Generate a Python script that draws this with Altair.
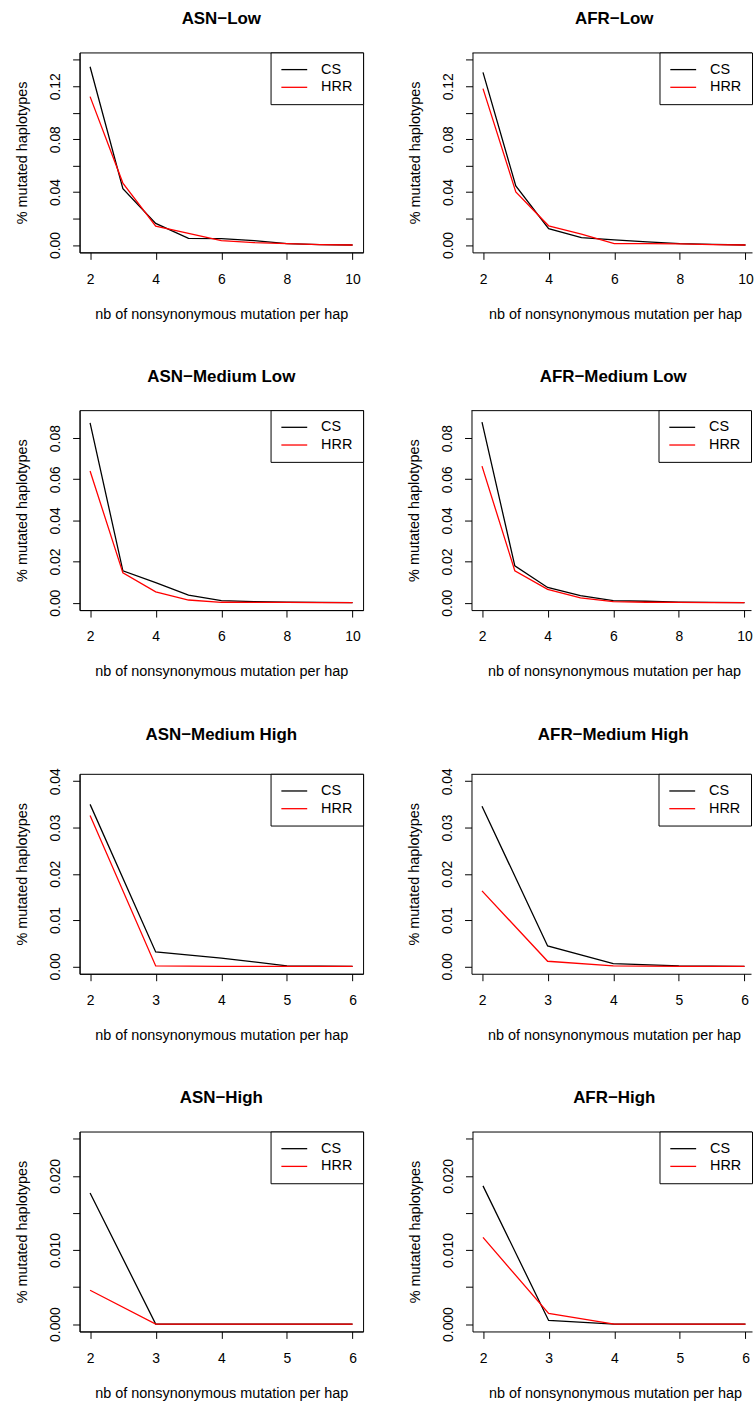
import altair as alt
import pandas as pd

FONT = "Liberation Sans"
SERIES = ["CS", "HRR"]
COLORS = ["#000000", "#ff0000"]

titles = ["ASN−Low", "AFR−Low", "ASN−Medium Low", "AFR−Medium Low",
          "ASN−Medium High", "AFR−Medium High", "ASN−High", "AFR−High"]

x_long = [2, 3, 4, 5, 6, 7, 8, 9, 10]
x_short = [2, 3, 4, 5, 6]

cs_asn_low = [0.1348, 0.0426, 0.0163, 0.0050, 0.0048, 0.0033, 0.0010, 0.0003, 0.0]
hrr_asn_low = [0.1122, 0.0468, 0.0143, 0.0088, 0.0033, 0.0018, 0.0010, 0.0003, 0.0]
cs_afr_low = [0.1305, 0.0446, 0.0123, 0.0055, 0.0038, 0.0023, 0.0010, 0.0005, 0.0]
hrr_afr_low = [0.1182, 0.0401, 0.0145, 0.0083, 0.0010, 0.0010, 0.0008, 0.0003, 0.0]

cs_asn_ml = [0.0874, 0.0155, 0.0097, 0.0037, 0.0010, 0.0005, 0.0002, 0.0001, 0.0]
hrr_asn_ml = [0.0640, 0.0145, 0.0053, 0.0013, 0.0002, 0.0001, 0.0001, 0.0, 0.0]
cs_afr_ml = [0.0878, 0.0179, 0.0074, 0.0034, 0.0010, 0.0007, 0.0003, 0.0001, 0.0]
hrr_afr_ml = [0.0664, 0.0155, 0.0065, 0.0023, 0.0005, 0.0002, 0.0001, 0.0, 0.0]

cs_asn_mh = [0.0350, 0.0031, 0.0018, 0.0001, 0.0]
hrr_asn_mh = [0.0326, 0.0001, 0.0, 0.0, 0.0]
cs_afr_mh = [0.0346, 0.0044, 0.0006, 0.0001, 0.0]
hrr_afr_mh = [0.0163, 0.0011, 0.0001, 0.0, 0.0]

cs_asn_high = [0.0177, 0.0, 0.0, 0.0, 0.0]
hrr_asn_high = [0.00456, 0.0, 0.0, 0.0, 0.0]
cs_afr_high = [0.01866, 0.00049, 0.0, 0.0, 0.0]
hrr_afr_high = [0.0117, 0.00143, 0.0, 0.0, 0.0]

x_title = "nb of nonsynonymous mutation per hap"
y_title = "% mutated haplotypes"

panels = [
    (titles[0], x_long, cs_asn_low, hrr_asn_low, 0.14, 0.02, "low"),
    (titles[1], x_long, cs_afr_low, hrr_afr_low, 0.14, 0.02, "low"),
    (titles[2], x_long, cs_asn_ml, hrr_asn_ml, 0.09, 0.02, "ml"),
    (titles[3], x_long, cs_afr_ml, hrr_afr_ml, 0.09, 0.02, "ml"),
    (titles[4], x_short, cs_asn_mh, hrr_asn_mh, 0.04, 0.01, "mh"),
    (titles[5], x_short, cs_afr_mh, hrr_afr_mh, 0.04, 0.01, "mh"),
    (titles[6], x_short, cs_asn_high, hrr_asn_high, 0.025, 0.005, "high"),
    (titles[7], x_short, cs_afr_high, hrr_afr_high, 0.025, 0.005, "high"),
]

W_L = 285
W_R = 281
H = 201

label_exprs = {
    "low": "round(datum.value*100) % 4 == 0 ? format(datum.value, '.2f') : ''",
    "ml": "format(datum.value, '.2f')",
    "mh": "format(datum.value, '.2f')",
    "high": "round(datum.value*1000) % 10 == 0 ? format(datum.value, '.3f') : ''",
}


def panel(spec, right):
    title, xs, cs, hrr, ymax, ystep, kind = spec
    span = xs[-1] - xs[0]
    x0 = xs[0] - 0.04 * span
    x1_full = xs[-1] + 0.04 * span
    ppu = W_L / (x1_full - x0)
    W = W_R if right else W_L
    x1 = x0 + W / ppu
    nt = int(round(ymax / ystep))
    yticks = [round(k * ystep, 4) for k in range(nt + 1)]
    xticks = [2, 4, 6, 8, 10] if xs[-1] == 10 else [2, 3, 4, 5, 6]
    df = pd.DataFrame({
        "x": xs + xs,
        "y": cs + hrr,
        "s": ["CS"] * len(xs) + ["HRR"] * len(xs),
    })
    xaxis = dict(values=xticks, format="d", title=x_title)
    if right:
        xaxis["titleX"] = W / 2 + 2.8
    line = alt.Chart(df).mark_line(strokeWidth=1.3, clip=True).encode(
        x=alt.X("x:Q", scale=alt.Scale(domain=[x0, x1], nice=False, zero=False),
                axis=alt.Axis(**xaxis)),
        y=alt.Y("y:Q", scale=alt.Scale(domain=[-0.04 * ymax, 1.04 * ymax], nice=False, zero=False),
                axis=alt.Axis(values=yticks, labelExpr=label_exprs[kind], title=y_title)),
        color=alt.Color("s:N", scale=alt.Scale(domain=SERIES, range=COLORS),
                        legend=alt.Legend(title=None, orient="top-right", offset=0)),
        order=alt.Order("x:Q"),
    )
    tparams = dict(text=title)
    if right:
        tparams["dx"] = 2
    if right:
        top = alt.Chart(pd.DataFrame({"k": [0]})).mark_rule(color="black", strokeWidth=1).encode(
            x=alt.value(0), x2=alt.value(W), y=alt.value(0.5))
        ch = alt.layer(line, top).properties(
            width=W, height=H, title=alt.Title(**tparams),
            view=alt.ViewBackground(stroke=None))
    else:
        ch = alt.layer(line).properties(width=W, height=H, title=alt.Title(**tparams))
    return ch


rows = []
for r in range(4):
    rows.append(
        alt.hconcat(panel(panels[2 * r], False), panel(panels[2 * r + 1], True), spacing=43)
        .resolve_legend(color="independent")
    )

chart = (
    alt.vconcat(*rows, spacing=46.6)
    .resolve_legend(color="independent")
    .properties(padding={"left": 14, "top": 6, "right": 0, "bottom": 0}, background="white")
    .configure(font=FONT)
    .configure_view(stroke="black", strokeWidth=1)
    .configure_axis(
        labelFont=FONT, titleFont=FONT, labelFontSize=14, titleFontSize=14.5,
        labelColor="black", titleColor="black", tickColor="black", domainColor="black",
        tickSize=7, grid=False, titleFontWeight="normal", labelOverlap=False,
        domainWidth=1, tickWidth=1,
    )
    .configure_axisY(labelAngle=270, labelAlign="center", labelBaseline="bottom",
                     labelPadding=10, titlePadding=19)
    .configure_axisX(labelPadding=13, titlePadding=21)
    .configure_title(font=FONT, fontSize=17, fontWeight="bold", color="black",
                     anchor="middle", frame="group", baseline="alphabetic", offset=24)
    .configure_legend(
        labelFont=FONT, labelFontSize=14.5, labelColor="black",
        strokeColor="black", fillColor="white", padding=10,
        symbolType="M-3,0H3", symbolSize=75, symbolStrokeWidth=1.3,
        symbolOffset=6.6, labelOffset=19.7, rowPadding=2.8,
    )
)

chart.save("out.html", embed_options={"renderer": "svg", "actions": False})
